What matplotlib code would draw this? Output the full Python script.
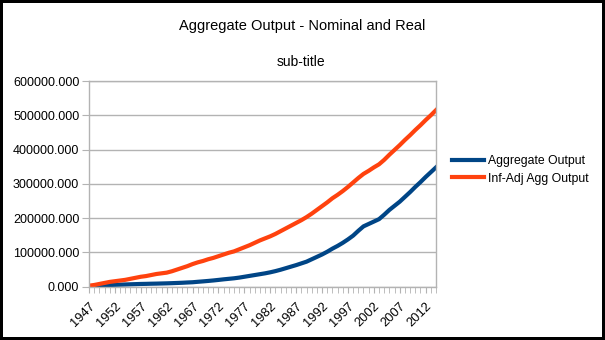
import matplotlib
matplotlib.use("Agg")
import matplotlib.pyplot as plt
from matplotlib.ticker import MultipleLocator, FormatStrFormatter

plt.rcParams['font.family'] = ['Liberation Sans', 'DejaVu Sans']

# Chart data
years = list(range(1947, 2015))
nominal = [
    1000, 2000, 3000, 4000, 5000, 5500, 6000, 6500, 7000, 7500,
    8000, 8300, 8700, 9000, 9400, 9800, 10300, 10900, 11500, 12300,
    13000, 14300, 15500, 16800, 18200, 19800, 21500, 23000, 24500, 26500,
    29000, 31500, 34000, 36500, 39000, 42000, 45500, 49500, 54000, 58500,
    63000, 68000, 73000, 80000, 87000, 94000, 102000, 111000, 119000, 128000,
    138000, 149000, 163000, 176000, 183000, 190000, 197000, 210000, 224000, 236000,
    248000, 262000, 276000, 291000, 305000, 320000, 334000, 348000,
]
real = [
    3000, 5000, 8000, 11000, 14000, 16000, 18000, 20000, 23000, 26000,
    29000, 31000, 34000, 37000, 39000, 41000, 45000, 50000, 55000, 60000,
    66000, 71000, 75000, 80000, 84000, 89000, 94000, 99000, 103000, 109000,
    115000, 121000, 128000, 135000, 141000, 147000, 154000, 162000, 170000, 178000,
    186000, 194000, 203000, 213000, 224000, 235000, 246000, 258000, 268000, 279000,
    291000, 304000, 317000, 329000, 338000, 348000, 357000, 370000, 385000, 399000,
    413000, 428000, 442000, 457000, 471000, 486000, 500000, 515000,
]
series_names = ["Aggregate Output", "Inf-Adj Agg Output"]
title = "Aggregate Output - Nominal and Real"
subtitle = "sub-title"

fig = plt.figure(figsize=(6.05, 3.4), dpi=100)
fig.patch.set_edgecolor('black')
fig.patch.set_linewidth(3)

ax = fig.add_axes([89 / 605, 1 - 286.7 / 340, (436 - 89) / 605, (286.7 - 81) / 340])

ax.plot(years, nominal, color='#004586', lw=3, label=series_names[0])
ax.plot(years, real, color='#ff420e', lw=3, label=series_names[1])

ax.set_xlim(1947, 2014)
ax.set_ylim(0, 600000)
ax.yaxis.set_major_locator(MultipleLocator(100000))
ax.yaxis.set_major_formatter(FormatStrFormatter('%.3f'))
ax.set_xticks(years[::5])
ax.set_xticks(years, minor=True)
ax.set_xticklabels([str(y) for y in years[::5]], rotation=45, ha='right',
                   rotation_mode='anchor')

ax.grid(axis='y', color='#b3b3b3', lw=1)
ax.set_axisbelow(True)
for s in ax.spines.values():
    s.set_color('#b3b3b3')
    s.set_linewidth(1)
ax.tick_params(axis='y', length=5, color='#b3b3b3', labelsize=9, pad=2)
ax.tick_params(axis='x', which='both', length=4, color='#b3b3b3', labelsize=9.3, pad=6)

fig.text(0.5, 1 - 26 / 340, title, ha='center', va='center', fontsize=10.5)
fig.text(0.497, 1 - 62 / 340, subtitle, ha='center', va='center', fontsize=10)

fig.legend(loc='center left', bbox_to_anchor=(452 / 605, 1 - 170 / 340),
           frameon=False, fontsize=8.8, borderpad=0, borderaxespad=0,
           handlelength=2.6, handletextpad=0.35, labelspacing=0.45)

fig.savefig('out.png', dpi=100)
